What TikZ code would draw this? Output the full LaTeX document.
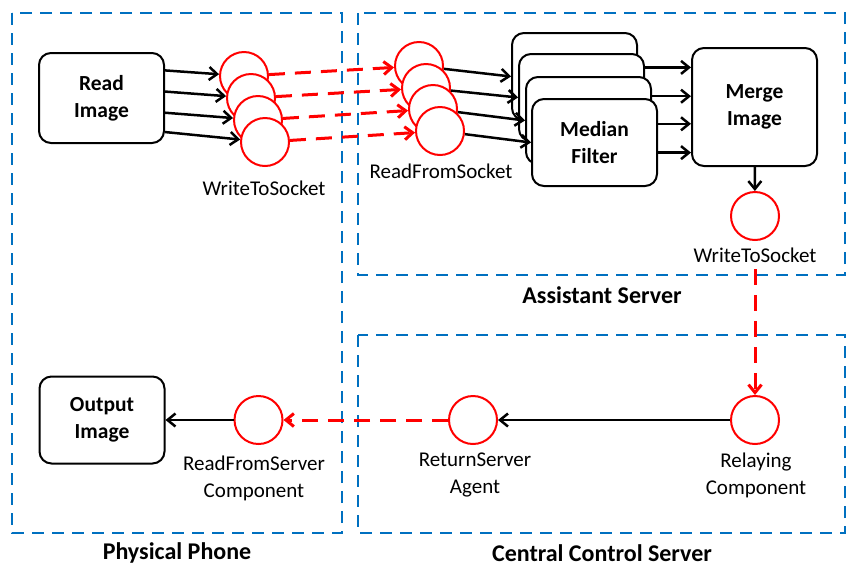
\documentclass[tikz,border=0pt]{standalone}
\usepackage{fontspec}
\setmainfont{Carlito}
\usetikzlibrary{arrows.meta, calc}

\definecolor{frameblue}{RGB}{0,112,192}

\begin{document}
\begin{tikzpicture}[
    x=0.5pt, y=-0.5pt,
    >={Straight Barb[length=4pt, width=6.5pt]},
    framestyle/.style={draw=frameblue, line width=1pt, dash pattern=on 6pt off 4pt},
    boxstyle/.style={rectangle, rounded corners=6pt, draw, line width=1pt, fill=white,
        minimum width=62.5pt, minimum height=43.5pt, align=center,
        font=\fontsize{10.75}{13.5}\selectfont\bfseries},
    portstyle/.style={circle, draw=red, line width=1pt, fill=white,
        minimum size=24pt, inner sep=0pt},
    labelstyle/.style={align=center, font=\fontsize{10.5}{13.5}\selectfont},
    captionstyle/.style={font=\fontsize{12}{14}\selectfont\bfseries},
    flow/.style={->, line width=1.25pt},
    remote/.style={->, red, line width=1.5pt, dash pattern=on 8pt off 5pt}
]
\useasboundingbox (0,0) rectangle (849,574);

% frames
\draw[framestyle] (12,13) rectangle (342,533);
\draw[framestyle] (358,13) rectangle (845,275);
\draw[framestyle] (358,335) rectangle (845,533);

\node[captionstyle] (phonecap) at (177,553) {Physical Phone};
\node[captionstyle] (assistcap) at (602,295) {Assistant Server};
\node[captionstyle] (centralcap) at (602,553) {Central Control Server};

% physical phone
\node[boxstyle, minimum height=45pt] (readimg) at (101.5,98) {Read\\Image};

\node[portstyle] (c1) at (244,76) {};
\node[portstyle] (c2) at (251,98) {};
\node[portstyle] (c3) at (258,120) {};
\node[portstyle] (c4) at (265,142) {};
\node[labelstyle] (c4lab) at (264,188) {WriteToSocket};

\draw[flow] ($(readimg.north east)!0.2!(readimg.south east)$) -- (c1);
\draw[flow] ($(readimg.north east)!0.43!(readimg.south east)$) -- (c2);
\draw[flow] ($(readimg.north east)!0.66!(readimg.south east)$) -- (c3);
\draw[flow] ($(readimg.north east)!0.87!(readimg.south east)$) -- (c4);

% assistant server
\node[portstyle] (r1) at (419,66) {};
\node[portstyle] (r2) at (426,88) {};
\node[portstyle] (r3) at (433,109) {};
\node[portstyle] (r4) at (440,131) {};
\node[labelstyle] (r4lab) at (441,171) {ReadFromSocket};

\draw[remote] (c1) -- (r1);
\draw[remote] (c2) -- (r2);
\draw[remote] (c3) -- (r3);
\draw[remote] (c4) -- (r4);

\node[boxstyle] (b1) at (574.5,76.5) {};
\node[boxstyle] (b2) at (581.5,97.5) {};
\node[boxstyle] (b3) at (588.5,120.5) {};
\node[boxstyle] (b4) at (594.5,142.5) {Median\\Filter};

\draw[flow] (r1) -- (b1.west);
\draw[flow] (r2) -- (b2.west);
\draw[flow] (r3) -- (b3.west);
\draw[flow] (r4) -- (b4.west);

\node[boxstyle, minimum height=59pt] (merge) at (754.5,107) {Merge\\Image};
\coordinate (m1) at ($(merge.north west)!0.17!(merge.south west)$);
\coordinate (m2) at ($(merge.north west)!0.41!(merge.south west)$);
\coordinate (m3) at ($(merge.north west)!0.64!(merge.south west)$);
\coordinate (m4) at ($(merge.north west)!0.88!(merge.south west)$);

\draw[flow] (b2.east |- m1) -- (m1);
\draw[flow] (b3.east |- m2) -- (m2);
\draw[flow] (b4.east |- m3) -- (m3);
\draw[flow] (b4.east |- m4) -- (m4);

\node[portstyle] (w2) at (755,216) {};
\node[labelstyle] (w2lab) at (755,255) {WriteToSocket};
\draw[flow] (merge) -- (w2);

% central control server
\node[portstyle] (relay) at (755,420) {};
\node[labelstyle] (relaylab) at (756,475) {Relaying\\Component};
\node[portstyle] (ret) at (473,420) {};
\node[labelstyle] (retlab) at (475,475) {ReturnServer\\Agent};

\draw[remote] (w2lab.south -| w2) -- (relay);
\draw[flow] (relay) -- (ret);

% back to the phone
\node[portstyle] (rfs) at (258.5,420) {};
\node[labelstyle] (rfslab) at (254,478) {ReadFromServer\\Component};
\node[boxstyle] (outimg) at (102,420) {Output\\Image};

\draw[remote] (ret) -- (rfs);
\draw[flow] (rfs) -- (outimg);

\end{tikzpicture}
\end{document}
